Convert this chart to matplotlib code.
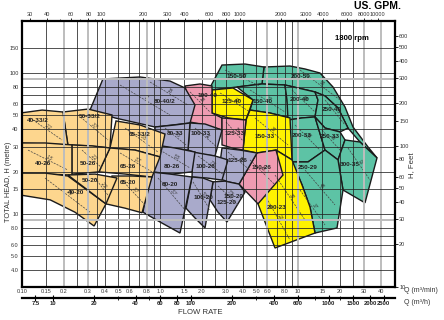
import math
import matplotlib
matplotlib.use("Agg")
import matplotlib.pyplot as plt
from matplotlib.patches import Polygon
from matplotlib.ticker import FixedLocator, NullLocator, NullFormatter

plt.rcParams['font.family'] = ['Liberation Sans', 'DejaVu Sans']

# ---------------- axis ticks ----------------
q_min_ticks = [0.1, 0.15, 0.2, 0.3, 0.4, 0.5, 0.6, 0.8, 1.0, 1.5, 2.0, 3.0, 4.0, 5.0, 6.0, 8.0, 10, 15, 20, 30, 40]
q_min_labels = ['0.10', '0.15', '0.2', '0.3', '0.4', '0.5', '0.6', '0.8', '1.0', '1.5', '2.0', '3.0',
                '4.0', '5.0', '6.0', '8.0', '10', '15', '20', '30', '40']
q_h_ticks = [7.5, 10, 20, 40, 60, 80, 100, 200, 400, 600, 1000, 1500, 2000, 2500]
q_h_labels = ['7.5', '10', '20', '40', '60', '80', '100', '200', '400', '600', '1000', '1500', '2000', '2500']
q_h_minor = [30, 50, 300, 800, 1200]
gpm_ticks = [30, 40, 60, 80, 100, 200, 300, 400, 600, 800, 1000, 2000, 3000, 4000, 6000, 8000, 10000]
gpm_minor = [50, 70, 90, 500, 700, 900, 5000, 7000, 9000]
h_m_ticks = [4, 5, 6, 8, 10, 15, 20, 30, 40, 50, 60, 80, 100, 150]
h_m_labels = ['4.0', '5.0', '6.0', '8.0', '10', '15', '20', '30', '40', '50', '60', '80', '100', '150']
h_ft_ticks = [10, 20, 30, 40, 50, 60, 80, 100, 150, 200, 300, 400, 500, 600]

grid_q = [0.15, 0.25, 0.35, 0.4, 0.5, 0.6, 0.7, 0.9, 1.0, 1.5, 2.0, 2.5, 3.0, 4.0, 5.0, 7.0, 8.0, 9.0, 15, 20, 25]
grid_q_grey = [0.2, 0.3, 0.8, 6.0, 10, 30, 40]
grid_h = [4, 5, 6, 7, 8, 10, 15, 20, 30, 40, 50, 60, 70, 80, 100, 150]
grid_h_grey = [9.14, 91.4]

# ---------------- pump coverage regions (Q m3/min, H m) ----------------
region_names = ['200-50', '150-50', '150-40', '200-40', '250-40', '200-33', '250-33', '300-35', '250-29',
                '125-40', '150-33', '200-23', '100-40', '125-33', '150-26',
                '80-40/2', '100-33', '80-33', '125-26', '100-26', '80-26', '125-20', '100-20', '80-20',
                '65-33/2', '50-33/2', '40-33/2', '65-26', '50-26', '40-26', '65-20', '40-20', '50-20']
region_groups = ['teal'] * 9 + ['yellow'] * 3 + ['pink'] * 3 + ['purple'] * 9 + ['orange'] * 9
region_q = [
    [5.67, 8.75, 11.24, 14.43, 17.93, 21.91, 25.04, 32.16, 37.37, 28.14, 23.03, 19.50, 15.70, 13.28, 8.05, 5.48],
    [2.154, 2.814, 4.130, 5.670, 5.484, 3.614, 2.382],
    [3.614, 5.484, 8.050, 8.323, 8.750, 6.268, 4.489, 4.720],
    [8.050, 13.28, 13.96, 13.28, 10.69, 8.463, 8.323],
    [13.28, 15.70, 19.50, 23.03, 20.16, 15.70, 13.28, 13.96],
    [8.463, 10.69, 13.28, 15.70, 11.82, 9.047],
    [13.28, 15.70, 20.16, 21.91, 19.50, 15.70],
    [21.91, 28.14, 37.37, 30.59, 21.19, 19.50],
    [9.047, 11.82, 15.70, 19.50, 21.19, 19.17, 13.28, 12.22, 10.69],
    [2.382, 3.381, 4.720, 4.201, 3.110, 2.382],
    [4.201, 4.489, 6.268, 8.750, 9.047, 6.928, 5.046, 3.995],
    [6.928, 9.047, 10.69, 12.22, 13.28, 6.813, 5.131],
    [1.518, 1.950, 2.382, 2.382, 2.814, 2.814, 2.119, 1.650, 1.596],
    [2.814, 3.496, 4.201, 3.995, 3.325, 2.814],
    [5.046, 6.928, 7.785, 5.131, 3.737],
    [0.386, 0.716, 1.181, 1.518, 1.793, 1.650, 0.920, 0.472, 0.311],
    [1.650, 2.119, 2.814, 2.504, 1.950, 1.596],
    [0.920, 1.284, 1.650, 1.596, 1.181, 0.920],
    [2.814, 3.800, 5.046, 3.737, 3.110, 2.633],
    [1.735, 2.504, 3.110, 2.814, 2.190, 1.706],
    [0.920, 1.284, 1.793, 1.706, 1.222, 0.875],
    [2.422, 2.958, 3.737, 4.130, 3.059, 2.633, 2.303],
    [1.706, 2.049, 2.422, 2.119, 1.793, 1.543],
    [0.846, 1.181, 1.706, 1.396, 1.000, 0.753],
    [0.480, 0.716, 1.087, 1.000, 0.659, 0.434],
    [0.198, 0.301, 0.449, 0.434, 0.311, 0.215],
    [0.09, 0.140, 0.198, 0.215, 0.147, 0.09],
    [0.434, 0.659, 1.000, 0.875, 0.558, 0.361],
    [0.230, 0.322, 0.434, 0.361, 0.286, 0.230],
    [0.09, 0.147, 0.230, 0.230, 0.147, 0.09],
    [0.449, 0.627, 0.875, 0.741, 0.558, 0.406],
    [0.09, 0.147, 0.215, 0.406, 0.333, 0.242, 0.160, 0.09],
    [0.215, 0.338, 0.488, 0.406],
]
region_h = [
    [110.3, 112.1, 106.8, 100.0, 79.6, 57.4, 41.4, 29.9, 25.0, 32.4, 40.7, 56.5, 68.7, 73.4, 82.2, 83.6],
    [69.8, 113.9, 115.8, 110.3, 83.6, 79.6, 75.8],
    [79.6, 83.6, 82.2, 64.4, 48.0, 52.0, 54.6, 64.4],
    [82.2, 73.4, 64.4, 48.8, 48.0, 46.4, 64.4],
    [73.4, 68.7, 56.5, 40.7, 38.2, 40.7, 48.8, 64.4],
    [46.4, 48.0, 48.8, 28.4, 23.4, 23.4],
    [48.8, 40.7, 38.2, 33.5, 24.2, 28.4],
    [33.5, 32.4, 25.0, 12.0, 14.8, 24.2],
    [23.4, 23.4, 28.4, 24.2, 14.8, 7.96, 7.33, 11.2, 16.1],
    [75.8, 78.3, 64.4, 46.4, 48.0, 52.0],
    [46.4, 54.6, 52.0, 48.0, 24.2, 28.4, 27.1, 28.4],
    [28.4, 24.2, 16.1, 11.2, 7.33, 5.74, 11.8],
    [80.9, 83.6, 80.9, 52.0, 48.0, 39.4, 42.8, 44.9, 64.4],
    [48.0, 47.2, 46.4, 28.4, 29.4, 30.9],
    [27.1, 28.4, 18.9, 11.8, 16.3],
    [90.7, 93.7, 87.7, 78.3, 59.3, 44.2, 41.4, 48.0, 54.6],
    [44.2, 43.5, 39.4, 25.8, 26.6, 28.4],
    [41.4, 42.8, 44.2, 28.4, 29.4, 30.9],
    [29.4, 28.4, 27.1, 16.3, 16.9, 18.0],
    [27.5, 25.8, 24.2, 17.4, 18.0, 18.3],
    [30.9, 29.4, 27.5, 19.9, 19.2, 19.9],
    [16.9, 17.1, 16.3, 14.3, 8.78, 10.3, 12.6],
    [18.3, 18.0, 16.9, 7.96, 9.37, 11.0],
    [19.9, 19.2, 18.3, 7.33, 8.78, 10.3],
    [45.7, 42.8, 36.9, 25.4, 28.4, 29.4],
    [52.9, 55.5, 50.4, 29.4, 30.4, 30.9],
    [51.5, 54.6, 52.9, 30.9, 31.4, 31.9],
    [29.4, 28.4, 25.4, 18.3, 19.2, 19.9],
    [30.9, 30.4, 29.4, 19.9, 19.5, 19.2],
    [31.9, 31.9, 30.9, 18.9, 19.2, 19.5],
    [18.6, 18.6, 18.3, 10.2, 11.0, 11.8],
    [19.5, 19.5, 18.6, 11.8, 8.22, 10.3, 12.6, 13.8],
    [18.9, 19.2, 18.0, 11.8],
]

label_text = ['40-33/2', '50-33/2', '65-33/2', '80-40/2', '80-33', '100-33', '100-40', '125-40', '150-50',
              '200-50', '150-40', '200-40', '250-40', '125-33', '150-33', '200-33', '250-33', '300-35',
              '250-29', '40-26', '50-26', '65-26', '80-26', '100-26', '125-26', '150-26', '40-20', '50-20',
              '65-20', '80-20', '100-20', '150-20', '125-20', '200-23']
label_q = [0.131, 0.311, 0.716, 1.087, 1.284, 1.982, 2.227, 3.325, 3.614,
           10.51, 5.577, 10.34, 17.64, 3.496, 5.766, 10.69, 17.06, 23.82,
           11.82, 0.142, 0.301, 0.586, 1.222, 2.119, 3.675, 5.484, 0.246, 0.311,
           0.586, 1.181, 2.049, 3.437, 3.059, 7.045]
label_h = [46.4, 48.8, 36.9, 63.3, 37.5, 37.5, 68.7, 63.3, 93.7,
           95.2, 63.3, 64.4, 55.5, 37.5, 35.7, 36.3, 35.2, 22.3,
           21.2, 23.0, 23.0, 21.9, 21.9, 21.9, 23.8, 21.2, 14.3, 17.4,
           16.6, 16.1, 13.2, 13.4, 12.0, 11.2]

# ---------------- motor power (kW) dashed lines ----------------
kw_q1 = [0.1143, 0.2545, 0.5578, 0.1105, 0.2721, 0.5130, 0.1468, 0.3381, 0.5304, 0.5130, 0.8462, 1.087,
         1.000, 0.9672, 1.793, 1.886, 1.735, 3.110, 2.633, 1.650, 3.008, 4.489, 2.722, 4.880, 6.813,
         5.766, 2.958, 4.489, 9.047, 10.34, 15.70, 9.513, 14.92, 11.24, 10.34, 23.03]
kw_h1 = [48.0, 50.4, 40.7, 28.4, 28.4, 27.1, 18.0, 18.0, 17.4, 82.2, 86.3, 40.7,
         28.4, 18.0, 40.7, 25.8, 16.9, 27.5, 15.8, 73.4, 44.9, 24.2, 72.2, 48.0, 18.9,
         13.6, 105.0, 75.8, 75.8, 105.0, 64.4, 42.8, 39.4, 20.5, 14.8, 29.4]
kw_q2 = [0.1950, 0.4201, 0.9672, 0.2154, 0.3800, 0.8750, 0.3110, 0.4201, 0.7785, 1.181, 1.596, 1.543,
         1.650, 1.518, 2.633, 2.910, 2.303, 4.489, 3.675, 2.303, 4.061, 6.813, 4.489, 8.463, 11.24,
         8.750, 5.304, 8.050, 13.28, 20.16, 21.91, 14.43, 20.16, 18.54, 15.70, 33.25]
kw_h2 = [33.5, 33.5, 27.5, 20.5, 21.2, 19.9, 10.3, 13.6, 11.6, 50.4, 59.3, 30.9,
         21.2, 10.7, 29.4, 18.9, 10.7, 20.5, 11.6, 52.9, 32.4, 16.1, 52.9, 30.9, 9.07,
         6.54, 80.9, 52.9, 52.9, 64.4, 42.8, 28.4, 28.4, 11.6, 8.36, 17.4]
kw_text = ['2.2', '3.7', '5.5', '1.5', '2.2', '3.7', '1.5', '2.2', '3.7', '11', '15', '7.5',
           '5.5', '3.7', '11', '7.5', '5.5', '11', '7.5', '15', '15', '18.5', '22', '30', '30',
           '22', '45', '37', '55', '90', '75', '45', '55', '45', '37', '90']

group_colors = {'orange': '#FDD68E', 'purple': '#A9AACB', 'pink': '#EF9BB1',
                'yellow': '#FFF200', 'teal': '#5DC3A5'}

GPM_PER_M3MIN = 264.17
FT_PER_M = 3.2808

fig = plt.figure(figsize=(4.44, 3.2), dpi=100)
ax = fig.add_axes([22 / 444, 1 - 287 / 320, 373 / 444, 266 / 320])
ax.set_xscale('log')
ax.set_yscale('log')
ax.set_xlim(0.1, 50.46)
ax.set_ylim(3.036, 233.8)

for i, (q, h) in enumerate(zip(region_q, region_h)):
    poly = Polygon(list(zip(q, h)), closed=True, facecolor=group_colors[region_groups[i]],
                   edgecolor='#1a1a1a', lw=1.0, joinstyle='miter', zorder=2 + i * 0.01)
    ax.add_patch(poly)

for q1, h1, q2, h2, t in zip(kw_q1, kw_h1, kw_q2, kw_h2, kw_text):
    ax.plot([q1, q2], [h1, h2], color='#444444', lw=0.5, dashes=(3.0, 1.6), zorder=2.8)
    p1 = ax.transData.transform((q1, h1))
    p2 = ax.transData.transform((q2, h2))
    ang = math.degrees(math.atan2(p2[1] - p1[1], p2[0] - p1[0]))
    ax.text(math.sqrt(q1 * q2), math.sqrt(h1 * h2), t, fontsize=3.3, style='italic', color='#333333',
            rotation=ang, rotation_mode='anchor', ha='center', va='bottom', zorder=2.9)

for gq in grid_q:
    ax.axvline(gq, color='#222222', lw=0.55, zorder=3)
for gq in grid_q_grey:
    ax.axvline(gq, color='#BDBDBD', lw=1.4, zorder=3)
for gh in grid_h:
    ax.axhline(gh, color='#222222', lw=0.55, zorder=3)
for gh in grid_h_grey:
    ax.axhline(gh, color='#BDBDBD', lw=1.4, zorder=3)

for t, q, h in zip(label_text, label_q, label_h):
    ax.text(q, h, t, fontsize=4.6, fontweight='bold', color='#222222', ha='center', va='center', zorder=5)

for s in ax.spines.values():
    s.set_linewidth(1.6)
    s.set_zorder(6)

tick_font = dict(fontsize=4.0, color='#333333')
ax.xaxis.set_major_locator(FixedLocator(q_min_ticks))
ax.xaxis.set_minor_locator(NullLocator())
ax.set_xticklabels(q_min_labels, **tick_font)
ax.tick_params(axis='x', which='major', length=0, pad=1.2)
ax.yaxis.set_major_locator(FixedLocator(h_m_ticks))
ax.yaxis.set_minor_locator(NullLocator())
ax.set_yticklabels(h_m_labels, **tick_font)
ax.tick_params(axis='y', which='major', length=0, pad=2.5)

top = ax.secondary_xaxis('top', functions=(lambda q: q * GPM_PER_M3MIN, lambda g: g / GPM_PER_M3MIN))
top.xaxis.set_major_locator(FixedLocator(gpm_ticks))
top.xaxis.set_minor_locator(FixedLocator(gpm_minor))
top.xaxis.set_minor_formatter(NullFormatter())
top.set_xticklabels([str(g) for g in gpm_ticks], **tick_font)
top.tick_params(axis='x', which='major', length=2, width=0.6, pad=1)
top.tick_params(axis='x', which='minor', length=1.2, width=0.5)
top.spines['top'].set_visible(False)

right = ax.secondary_yaxis('right', functions=(lambda h: h * FT_PER_M, lambda f: f / FT_PER_M))
right.yaxis.set_major_locator(FixedLocator(h_ft_ticks))
right.yaxis.set_minor_locator(NullLocator())
right.set_yticklabels([str(f) for f in h_ft_ticks], **tick_font)
right.tick_params(axis='y', which='major', length=2, width=0.6, pad=1)
right.spines['right'].set_visible(False)

bot = ax.secondary_xaxis(-0.0414, functions=(lambda q: q * 60.0, lambda m: m / 60.0))
bot.xaxis.set_major_locator(FixedLocator(q_h_ticks))
bot.xaxis.set_minor_locator(FixedLocator(q_h_minor))
bot.xaxis.set_minor_formatter(NullFormatter())
bot.set_xticklabels(q_h_labels, fontsize=4.2, color='#222222', fontweight='bold')
bot.tick_params(axis='x', which='major', direction='inout', length=4, width=0.8, pad=0.5)
bot.tick_params(axis='x', which='minor', direction='inout', length=3, width=0.6)
bot.spines['bottom'].set_linewidth(1.6)

fig.text(377 / 444, 1 - 6 / 320, 'US. GPM.', fontsize=7.5, fontweight='bold', ha='center', va='center')
fig.text(352 / 444, 1 - 39 / 320, '1800 rpm', fontsize=5.6, fontweight='bold', ha='center', va='center')
fig.text(8 / 444, 1 - 182 / 320, 'TOTAL HEAD, H (metre)', fontsize=5.3, rotation=90, ha='center', va='center',
         color='#333333')
fig.text(412 / 444, 1 - 165 / 320, 'H, Feet', fontsize=5.6, rotation=90, ha='center', va='center', color='#333333')
fig.text(200 / 444, 1 - 313 / 320, 'FLOW RATE', fontsize=5.6, ha='center', va='center', color='#333333')
fig.text(404 / 444, 1 - 290 / 320, 'Q (m³/min)', fontsize=5.0, ha='left', va='center', color='#333333')
fig.text(404 / 444, 1 - 302 / 320, 'Q (m³/h)', fontsize=5.0, ha='left', va='center', color='#333333')

fig.savefig('out.png', dpi=100)
